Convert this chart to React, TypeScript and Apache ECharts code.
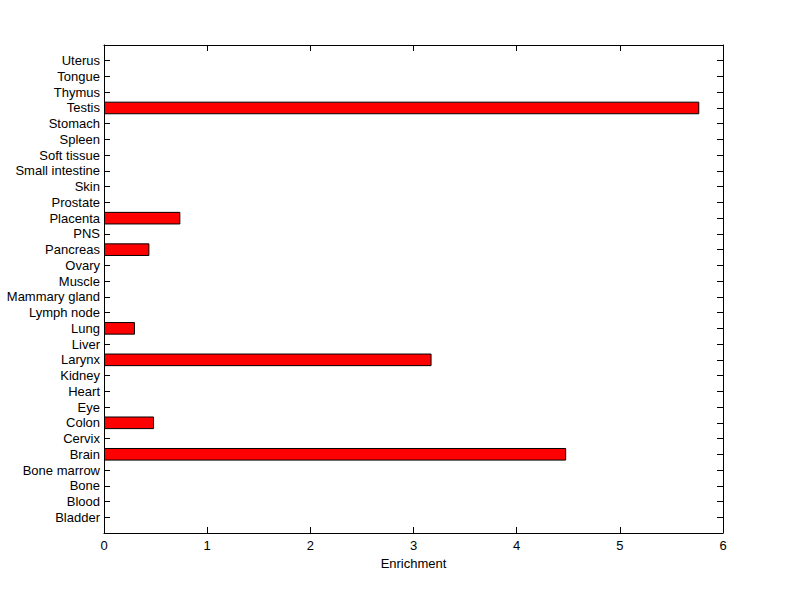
import React, { useEffect, useRef } from "react";
import * as echarts from "echarts";

const categories = [
  "Bladder", "Blood", "Bone", "Bone marrow", "Brain", "Cervix", "Colon", "Eye", "Heart", "Kidney",
  "Larynx", "Liver", "Lung", "Lymph node", "Mammary gland", "Muscle", "Ovary", "Pancreas", "PNS", "Placenta",
  "Prostate", "Skin", "Small intestine", "Soft tissue", "Spleen", "Stomach", "Testis", "Thymus", "Tongue", "Uterus",
];
const enrichment = [
  0, 0, 0, 0, 4.48, 0, 0.485, 0, 0, 0,
  3.175, 0, 0.30, 0, 0, 0, 0, 0.44, 0, 0.74,
  0, 0, 0, 0, 0, 0, 5.77, 0, 0, 0,
];
const xTicks = [0, 1, 2, 3, 4, 5, 6];

const FONT = "'Liberation Sans', Arial, Helvetica, sans-serif";

export default function App() {
  const ref = useRef<HTMLDivElement>(null);
  useEffect(() => {
    if (!ref.current) return;
    const chart = echarts.init(ref.current, undefined, { renderer: "svg" });
    const cats = ["", ...categories, ""];
    const data = [null, ...enrichment.map((v) => (v === 0 ? null : v)), null];
    const yCommon = {
      type: "category" as const,
      data: cats,
      boundaryGap: false,
      axisLine: { show: true, onZero: false, lineStyle: { color: "#000", width: 1 } },
      axisTick: { show: true, inside: true, length: 6, lineStyle: { color: "#000" } },
      splitLine: { show: false },
    };
    const xCommon = {
      type: "value" as const,
      min: xTicks[0],
      max: xTicks[xTicks.length - 1],
      interval: 1,
      axisLine: { show: true, onZero: false, lineStyle: { color: "#000", width: 1 } },
      axisTick: { show: true, inside: true, length: 6, lineStyle: { color: "#000" } },
      splitLine: { show: false },
    };
    chart.setOption({
      animation: false,
      backgroundColor: "#fff",
      grid: { left: 104, right: 77, top: 45, bottom: 66, containLabel: false },
      xAxis: [
        {
          ...xCommon,
          position: "bottom",
          name: "Enrichment",
          nameLocation: "middle",
          nameGap: 24,
          nameTextStyle: { color: "#000", fontFamily: FONT, fontSize: 13 },
          axisLabel: { color: "#000", fontFamily: FONT, fontSize: 13, margin: 6 },
        },
        { ...xCommon, position: "top", axisLabel: { show: false } },
      ],
      yAxis: [
        {
          ...yCommon,
          position: "left",
          axisLabel: { color: "#000", fontFamily: FONT, fontSize: 13, margin: 4, interval: 0 },
        },
        { ...yCommon, position: "right", axisLabel: { show: false } },
      ],
      series: [
        {
          type: "bar",
          xAxisIndex: 0,
          yAxisIndex: 0,
          data,
          barWidth: "80%",
          itemStyle: { color: "#ff0000", borderColor: "#000", borderWidth: 1 },
        },
      ],
    });
    return () => chart.dispose();
  }, []);
  return (
    <div
      ref={ref}
      style={{ position: "fixed", left: 0, top: 0, width: 800, height: 599, background: "#fff" }}
    />
  );
}
